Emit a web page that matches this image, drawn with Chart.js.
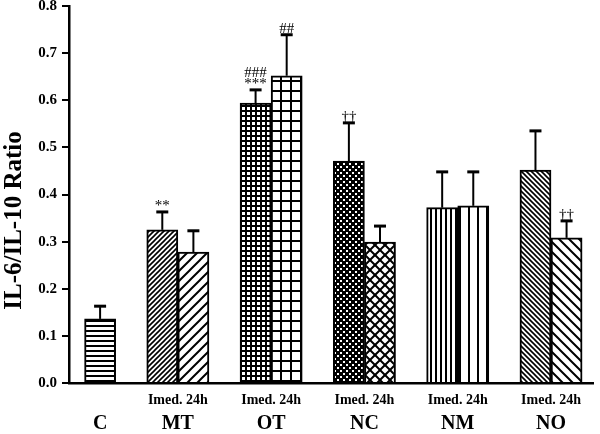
<!DOCTYPE html>
<html>
<head>
<meta charset="utf-8">
<script src="https://cdn.jsdelivr.net/npm/chart.js@4"></script>
<style>
  html, body { margin: 0; padding: 0; background: #fff; }
</style>
</head>
<body>
<canvas id="chart" width="600" height="434"></canvas>
<script>
/* -------------------------
   DATA
------------------------- */
const groups = ["C", "MT", "OT", "NC", "NM", "NO"];
const timeLabel = "Imed. 24h";
const yTitle = "IL-6/IL-10 Ratio";

// one entry per bar, left to right
const barGroup = [0, 1, 1, 2, 2, 3, 3, 4, 4, 5, 5];
const barSlots = [0, 2, 3, 5, 6, 8, 9, 11, 12, 14, 15];
const means  = [0.136, 0.325, 0.278, 0.594, 0.652, 0.471, 0.299, 0.372, 0.376, 0.452, 0.308];
const errors = [0.027, 0.038, 0.045, 0.028, 0.087, 0.081, 0.034, 0.076, 0.072, 0.083, 0.036];
const marks  = [[], ["**"], [], ["***", "###"], ["##"], ["\u2020\u2020"], [], [], [], [], ["\u2020\u2020"]];

const yTicks = [0, 0.1, 0.2, 0.3, 0.4, 0.5, 0.6, 0.7, 0.8];

const groupCenters = groups.map((g, gi) => {
  const s = barSlots.filter((_, i) => barGroup[i] === gi);
  return s.reduce((a, b) => a + b, 0) / s.length;
});

/* -------------------------
   FILL PATTERNS
------------------------- */
function makePattern(size, draw, bg) {
  const c = document.createElement("canvas");
  c.width = c.height = size;
  const g = c.getContext("2d");
  g.fillStyle = bg || "#fff";
  g.fillRect(0, 0, size, size);
  g.fillStyle = "#000";
  g.strokeStyle = "#000";
  draw(g, size);
  return g.createPattern(c, "repeat");
}

function slash(g, s, w) {       // "/" lines
  g.lineWidth = w;
  g.beginPath();
  g.moveTo(-1, s + 1); g.lineTo(s + 1, -1);
  g.moveTo(-1, 1); g.lineTo(1, -1);
  g.moveTo(s - 1, s + 1); g.lineTo(s + 1, s - 1);
  g.stroke();
}
function backslash(g, s, w) {   // "\" lines
  g.lineWidth = w;
  g.beginPath();
  g.moveTo(-1, -1); g.lineTo(s + 1, s + 1);
  g.moveTo(s - 1, -1); g.lineTo(s + 1, 1);
  g.moveTo(-1, s - 1); g.lineTo(1, s + 1);
  g.stroke();
}

const patterns = [
  makePattern(5, (g, s) => g.fillRect(0, 0, s, 2)),                      // C horizontal
  makePattern(5, (g, s) => slash(g, s, 1.6)),                              // MT imed
  makePattern(10, (g, s) => slash(g, s, 2)),                               // MT 24h
  makePattern(5, (g, s) => { g.fillRect(0, 0, s, 2); g.fillRect(0, 0, 2, s); }),  // OT imed
  makePattern(10, (g, s) => { g.fillRect(0, 0, s, 2); g.fillRect(0, 0, 2, s); }), // OT 24h
  makePattern(6, (g, s) => { g.fillStyle = "#fff"; g.fillRect(1, 1, 2, 2); g.fillRect(4, 4, 2, 2); }, "#000"), // NC imed
  makePattern(10, (g, s) => { slash(g, s, 2); backslash(g, s, 2); }),      // NC 24h
  makePattern(5, (g, s) => g.fillRect(0, 0, 2, s)),                        // NM imed
  makePattern(9, (g, s) => g.fillRect(0, 0, 2, s)),                        // NM 24h
  makePattern(5, (g, s) => backslash(g, s, 1.6)),                          // NO imed
  makePattern(10, (g, s) => backslash(g, s, 2))                            // NO 24h
];

const serif = "'Liberation Serif', 'Times New Roman', serif";

/* -------------------------
   ERROR BARS + SIGNIFICANCE MARKS
------------------------- */
const errorBars = {
  id: "errorBars",
  afterDatasetsDraw(chart) {
    const { ctx, scales: { y } } = chart;
    const meta = chart.getDatasetMeta(0);
    ctx.save();
    ctx.strokeStyle = "#000";
    ctx.fillStyle = "#000";
    meta.data.forEach((bar, i) => {
      const top = y.getPixelForValue(means[i] + errors[i]);
      ctx.lineWidth = 2;
      ctx.beginPath();
      ctx.moveTo(bar.x, bar.y);
      ctx.lineTo(bar.x, top);
      ctx.stroke();
      ctx.lineWidth = 3;
      ctx.beginPath();
      ctx.moveTo(bar.x - 6, top);
      ctx.lineTo(bar.x + 6, top);
      ctx.stroke();
      ctx.font = '15px "Liberation Serif"';
      ctx.textAlign = "center";
      ctx.textBaseline = "alphabetic";
      marks[i].forEach((m, j) => ctx.fillText(m, bar.x, top - 2 - j * 11));
    });
    ctx.restore();
  }
};

/* -------------------------
   Y TITLE (sits a bit below the axis middle)
------------------------- */
const yAxisTitle = {
  id: "yAxisTitle",
  afterDraw(chart) {
    const { ctx, scales: { y } } = chart;
    ctx.save();
    ctx.translate(15, (y.top + y.bottom) / 2 + 26);
    ctx.rotate(-Math.PI / 2);
    ctx.font = "bold 25px " + serif;
    ctx.fillStyle = "#000";
    ctx.textAlign = "center";
    ctx.textBaseline = "middle";
    ctx.fillText(yTitle, 0, 0);
    ctx.restore();
  }
};

/* -------------------------
   CHART
------------------------- */
new Chart(document.getElementById("chart"), {
  type: "bar",
  data: {
    datasets: [{
      data: barSlots.map((x, i) => ({ x, y: means[i] })),
      backgroundColor: patterns,
      borderColor: "#000",
      borderWidth: 2,
      categoryPercentage: 1,
      barPercentage: 1
    }]
  },
  options: {
    responsive: false,
    animation: false,
    layout: { padding: { top: 6, right: 7, left: 0, bottom: 0 } },
    plugins: { legend: { display: false }, tooltip: { enabled: false } },
    scales: {
      x: {
        type: "linear",
        position: "bottom",
        offset: false,
        weight: 1,
        min: -1,
        max: 15.85,
        grid: { display: false, drawTicks: false },
        border: { color: "#000", width: 2.5 },
        afterBuildTicks: s => { s.ticks = groupCenters.map(v => ({ value: v })); },
        afterFit: s => { s.height = 26; s.paddingLeft = 0; s.paddingRight = 0; },
        ticks: {
          autoSkip: false,
          maxRotation: 0,
          padding: 9,
          color: "#000",
          font: { family: serif, size: 14, weight: "bold" },
          callback: (v, i) => barGroup.filter(g => g === i).length > 1 ? timeLabel : ""
        }
      },
      x2: {
        type: "linear",
        position: "bottom",
        offset: false,
        weight: 2,
        min: -1,
        max: 15.85,
        grid: { display: false, drawTicks: false },
        border: { display: false },
        afterBuildTicks: s => { s.ticks = groupCenters.map(v => ({ value: v })); },
        afterFit: s => { s.height = 25; s.paddingLeft = 0; s.paddingRight = 0; },
        ticks: {
          autoSkip: false,
          maxRotation: 0,
          padding: 3,
          color: "#000",
          font: { family: serif, size: 20, weight: "bold" },
          callback: (v, i) => groups[i]
        }
      },
      y: {
        min: 0,
        max: 0.8,
        grid: { drawOnChartArea: false, drawTicks: true, tickLength: 7, color: "#000", lineWidth: 2 },
        border: { color: "#000", width: 2.5 },
        afterBuildTicks: s => { s.ticks = yTicks.map(v => ({ value: v })); },
        afterFit: s => { s.width = 69; s.paddingTop = 0; s.paddingBottom = 0; },
        ticks: {
          padding: 5,
          color: "#000",
          font: { family: serif, size: 15, weight: "bold" },
          callback: v => v.toFixed(1)
        }
      }
    }
  },
  plugins: [errorBars, yAxisTitle]
});
</script>
</body>
</html>
